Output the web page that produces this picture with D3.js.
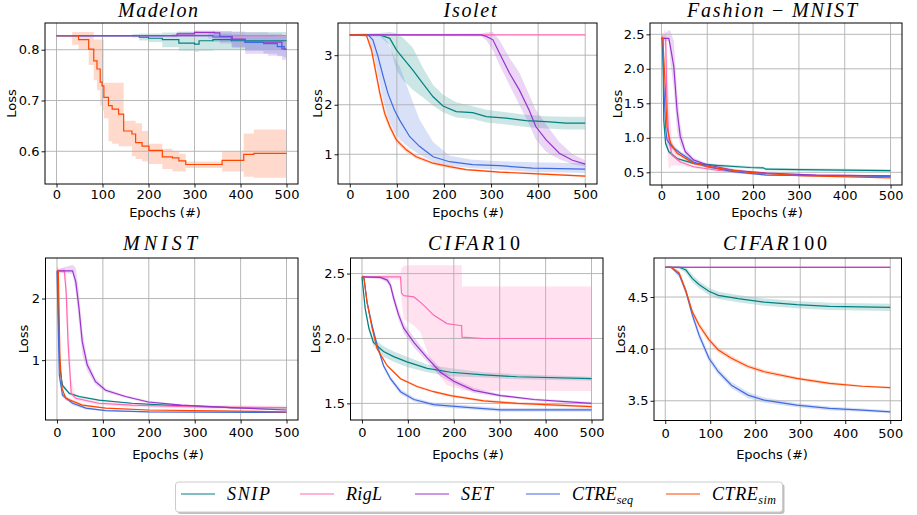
<!DOCTYPE html>
<html>
<head>
<meta charset="utf-8">
<script src="https://cdn.jsdelivr.net/npm/d3@7"></script>
<style>
body { margin: 0; background: #fff; }
svg { display: block; }
</style>
</head>
<body>
<svg id="chart" width="917" height="515"></svg>
<script>
// methods in legend order
var methods = ["SNIP", "RigL", "SET", "CTRE", "CTRE"];
var methodSubs = ["", "", "", "seq", "sim"];
var colors = ["#008080", "#ff69b4", "#9932cc", "#4169e1", "#ff4500"];
var xTicks = [0, 100, 200, 300, 400, 500];

// rows: [epoch, mean, halfBand] or [epoch, mean, lower, upper]
var madelonSnip = [[0,.8276,.001],[165,.8276,.824,.831],[180,.8245,.818,.832],[200,.8226,.815,.832],[230,.8197,.805,.834],[266,.813,.798,.835],[300,.811,.796,.836],[310,.8177,.798,.835],[340,.82,.80,.836],[380,.8177,.800,.835],[500,.8177,.800,.834]];
var madelonRigl = [[0,.8276,.001],[500,.8276,.002]];
var madelonSet = [[0,.8276,.001],[250,.8276,.825,.831],[262,.831,.826,.836],[300,.834,.827,.838],[343,.833,.822,.838],[355,.826,.812,.837],[382,.821,.804,.836],[410,.815,.792,.834],[460,.815,.788,.832],[490,.8014,.78,.828],[500,.8014,.78,.828]];
var madelonSeq = [[0,.8276,.001],[330,.8276,.822,.832],[340,.825,.815,.832],[380,.8197,.806,.83],[410,.8146,.798,.828],[450,.812,.792,.827],[480,.806,.787,.826],[495,.8007,.785,.826],[500,.8007,.785,.826]];
var madelonSim = [[0,.8276,.8276,.8276],[34,.8276,.81,.835],[48,.82,.80,.835],[70,.801,.77,.835],[81,.778,.74,.82],[88,.762,.72,.82],[95,.736,.69,.82],[99,.729,.68,.82],[103,.706,.665,.735],[113,.690,.62,.735],[121,.683,.615,.735],[135,.673,.61,.735],[146,.640,.61,.66],[164,.634,.59,.66],[172,.617,.585,.655],[186,.610,.58,.64],[201,.602,.575,.615],[230,.589,.565,.605],[252,.587,.56,.60],[266,.581,.56,.595],[281,.574,.567,.58],[360,.582,.56,.60],[407,.594,.55,.635],[429,.596,.548,.643],[500,.596,.548,.643]];

var isoletSnip = [[0,3.41,.02],[64,3.41,3.38,3.45],[85,3.34,3.2,3.47],[99,3.107,2.7,3.45],[113,2.94,2.5,3.35],[134,2.70,2.3,3.15],[155,2.43,2.15,2.75],[177,2.16,1.98,2.4],[198,1.975,1.85,2.2],[226,1.86,1.74,2.05],[261,1.84,1.71,1.97],[290,1.76,1.64,1.9],[332,1.73,1.6,1.85],[374,1.68,1.55,1.8],[417,1.66,1.52,1.77],[459,1.63,1.5,1.76],[500,1.63,1.5,1.76]];
var isoletRigl = [[0,3.41,.01],[500,3.41,.01]];
var isoletSet = [[0,3.41,.01],[279,3.41,3.38,3.44],[290,3.38,3.3,3.46],[304,3.31,3.1,3.47],[318,3.04,2.8,3.3],[339,2.64,2.4,2.95],[360,2.30,2.0,2.65],[381,1.89,1.6,2.2],[395,1.56,1.3,1.9],[417,1.29,1.05,1.6],[445,1.02,0.9,1.25],[473,0.88,0.8,1.0],[500,0.80,0.75,0.88]];
var isoletSeq = [[0,3.41,.01],[39,3.41,3.38,3.43],[49,3.31,3.1,3.41],[60,2.97,2.6,3.40],[71,2.57,2.1,3.38],[81,2.23,1.75,3.25],[95,1.89,1.45,2.95],[106,1.69,1.3,2.77],[127,1.36,1.12,2.23],[148,1.16,1.0,1.7],[177,0.95,0.85,1.25],[212,0.85,0.77,0.97],[261,0.79,0.72,0.89],[318,0.77,0.69,0.86],[388,0.72,0.64,0.84],[500,0.70,0.62,0.82]];
var isoletSim = [[0,3.41,.01],[35,3.41,.03],[46,3.11,.1],[53,2.77,.12],[64,2.23,.12],[74,1.83,.1],[85,1.56,.08],[99,1.29,.06],[120,1.09,.05],[141,0.95,.04],[177,0.82,.03],[212,0.75,.03],[247,0.69,.02],[318,0.64,.02],[388,0.61,.02],[500,0.56,.02]];

var fashionSnip = [[0,2.44,.03],[1.5,2.44,.05],[3.6,2.03,.1],[5,1.26,.1],[9,0.92,.05],[16,0.80,.03],[34,0.70,.02],[70,0.63,.02],[121,0.60,.02],[193,0.57,.02],[222,0.565,.02],[228,0.545,.02],[302,0.54,.02],[500,0.525,.02]];
var fashionRigl = [[0,2.44,.02],[9,2.44,2.3,2.58],[12,1.55,0.9,2.4],[16,0.97,0.55,1.6],[23,0.75,0.6,0.95],[41,0.65,0.6,0.7],[70,0.58,.02],[121,0.53,.02],[193,0.49,.02],[302,0.46,.01],[500,0.45,.01]];
var fashionSet = [[0,2.44,.02],[16,2.44,2.4,2.56],[19.5,2.32,2.1,2.55],[27,2.03,1.7,2.4],[34,1.40,1.1,1.7],[41,1.02,0.9,1.2],[52,0.80,.05],[70,0.68,.03],[99,0.61,.02],[157,0.53,.02],[229,0.49,.01],[338,0.46,.01],[500,0.45,.01]];
var fashionSeq = [[0,2.44,.02],[3,2.44,.05],[5,1.79,.1],[9,1.16,.08],[12,0.97,.06],[23,0.87,.04],[41,0.78,.03],[70,0.65,.03],[99,0.58,.02],[157,0.51,.02],[229,0.46,.01],[500,0.44,.01]];
var fashionSim = [[0,2.44,.03],[3,2.44,.1],[9,1.64,.15],[12,1.16,.1],[20,0.92,.05],[34,0.78,.03],[70,0.63,.02],[121,0.56,.02],[193,0.50,.01],[302,0.45,.01],[500,0.42,.01]];

var mnistSnip = [[0,2.45,.08],[1.4,2.45,.05],[3.6,1.57,.1],[6.5,0.86,.08],[12,0.59,.04],[27,0.46,.02],[48,0.41,.02],[91,0.35,.01],[163,0.30,.01],[235,0.27,.01],[379,0.23,.01],[500,0.23,.01]];
var mnistRigl = [[0,2.45,.02],[16,2.45,2.4,2.5],[20,2.1,1.9,2.4],[24,1.30,1.0,1.9],[31,0.46,0.4,0.7],[41,0.38,.03],[91,0.30,.03],[163,0.27,.03],[307,0.24,.03],[500,0.23,.03]];
var mnistSet = [[0,2.45,.02],[34,2.45,2.4,2.55],[41,2.27,2.1,2.5],[48,1.84,1.6,2.1],[55,1.30,1.1,1.5],[66,0.92,0.82,1.02],[84,0.65,.05],[106,0.51,.03],[149,0.41,.02],[199,0.32,.02],[271,0.27,.01],[379,0.23,.01],[500,0.19,.01]];
var mnistSeq = [[0,2.45,.05],[2,1.84,.1],[5,0.76,.08],[12,0.43,.04],[34,0.30,.03],[63,0.22,.02],[106,0.18,.01],[199,0.16,.01],[500,0.15,.01]];
var mnistSim = [[0,2.45,.05],[3,2.45,.05],[6.5,1.03,.1],[11,0.54,.04],[19,0.38,.03],[55,0.27,.02],[106,0.22,.01],[199,0.19,.01],[500,0.16,.01]];

var cifar10Snip = [[0,2.475,.01],[7,2.23,.03],[15,2.08,.03],[25,1.97,.03],[47,1.90,.04],[69,1.86,.04],[98,1.82,.04],[142,1.77,.03],[193,1.74,.03],[265,1.72,.02],[338,1.705,.02],[500,1.69,.015]];
var cifar10Rigl = [[0,2.475,2.47,2.48],[84,2.475,2.45,2.50],[86,2.35,2.3,2.54],[91,2.33,2.15,2.56],[113,2.32,2.1,2.565],[127,2.28,2.05,2.565],[142,2.23,1.9,2.565],[156,2.18,1.77,2.565],[185,2.115,1.64,2.565],[214,2.10,1.61,2.565],[217,2.10,1.60,2.565],[218,2.01,1.60,2.40],[265,2.0,1.598,2.40],[500,2.0,1.595,2.40]];
var cifar10Set = [[0,2.475,.01],[40,2.47,.01],[55,2.45,.02],[62,2.41,.03],[69,2.31,.04],[80,2.18,.04],[91,2.08,.04],[113,1.97,.04],[142,1.85,.03],[171,1.74,.03],[200,1.67,.02],[243,1.60,.02],[302,1.56,.01],[374,1.53,.01],[500,1.50,.01]];
var cifar10Seq = [[0,2.475,.01],[4,2.475,.01],[11,2.28,.02],[22,2.10,.02],[33,1.95,.02],[47,1.79,.02],[62,1.69,.02],[84,1.59,.02],[113,1.53,.015],[156,1.49,.015],[229,1.47,.015],[302,1.45,.015],[500,1.45,.015]];
var cifar10Sim = [[0,2.475,.01],[4,2.475,.01],[11,2.28,.015],[22,2.08,.015],[33,1.92,.015],[55,1.79,.01],[84,1.69,.01],[120,1.63,.01],[156,1.59,.01],[193,1.56,.01],[265,1.52,.01],[338,1.50,.01],[500,1.475,.01]];

var cifar100Snip = [[0,4.787,.005],[31,4.787,.015],[46,4.76,.03],[60,4.68,.035],[75,4.62,.035],[97,4.555,.035],[118,4.516,.035],[162,4.484,.035],[220,4.45,.035],[292,4.426,.035],[365,4.41,.035],[500,4.40,.035]];
var cifar100Rigl = [[0,4.787,.002],[500,4.787,.002]];
var cifar100Set = [[0,4.787,.002],[500,4.787,.002]];
var cifar100Seq = [[0,4.787,.005],[13,4.787,.01],[31,4.716,.03],[46,4.555,.04],[60,4.33,.04],[75,4.135,.04],[97,3.91,.035],[118,3.78,.03],[147,3.65,.03],[184,3.555,.03],[220,3.506,.025],[292,3.458,.02],[365,3.426,.02],[438,3.41,.015],[500,3.394,.015]];
var cifar100Sim = [[0,4.787,.005],[13,4.787,.01],[31,4.73,.025],[46,4.555,.03],[60,4.36,.03],[75,4.23,.03],[97,4.09,.03],[118,3.99,.025],[147,3.91,.025],[184,3.83,.02],[220,3.78,.02],[292,3.716,.015],[365,3.668,.015],[438,3.64,.01],[500,3.626,.01]];

var panels = [
  {title: [["Madelon", true]], titleX: 158, titleLen: 80, series: [madelonSnip, madelonRigl, madelonSet, madelonSeq, madelonSim],
   yDomain: [0.5356, 0.8526], yTicks: [0.6, 0.7, 0.8], fmt: ".1f", box: [45, 23, 298, 184], step: true, labX: 165, loss: 11},
  {title: [["Isolet", true]], titleX: 470, titleLen: 53, series: [isoletSnip, isoletRigl, isoletSet, isoletSeq, isoletSim],
   yDomain: [0.40, 3.65], yTicks: [1, 2, 3], fmt: "d", box: [338, 23, 597, 184], labX: 468, loss: 317},
  {title: [["Fashion", true], [" \u2212 ", false], ["MNIST", true]], titleX: 772, titleLen: 170, series: [fashionSnip, fashionRigl, fashionSet, fashionSeq, fashionSim],
   yDomain: [0.316, 2.664], yTicks: [0.5, 1.0, 1.5, 2.0, 2.5], fmt: ".1f", box: [650, 23, 902, 185], labX: 767, loss: 617},
  {title: [["MNIST", true]], titleX: 160, titleLen: 74, series: [mnistSnip, mnistRigl, mnistSet, mnistSeq, mnistSim],
   yDomain: [0.028, 2.658], yTicks: [1, 2], fmt: "d", box: [45.5, 258, 298, 420], labX: 168, loss: 23.5},
  {title: [["CIFAR", true], ["10", false]], titleX: 474, titleLen: 92, series: [cifar10Snip, cifar10Rigl, cifar10Set, cifar10Seq, cifar10Sim],
   yDomain: [1.372, 2.62], yTicks: [1.5, 2.0, 2.5], fmt: ".1f", box: [350.5, 258, 603, 420], labX: 468, loss: 315},
  {title: [["CIFAR", true], ["100", false]], titleX: 775, titleLen: 104, series: [cifar100Snip, cifar100Rigl, cifar100Set, cifar100Seq, cifar100Sim],
   yDomain: [3.31, 4.876], yTicks: [3.5, 4.0, 4.5], fmt: ".1f", box: [654, 258, 901.5, 420.5], labX: 772, loss: 620}
];

var svg = d3.select("#chart");
var sans = "'DejaVu Sans', sans-serif";
var serif = "'Liberation Serif', 'DejaVu Serif', serif";

function toRows(data) {
  return data.map(function(r) {
    if (r.length == 4) return {e: r[0], m: r[1], lo: r[2], hi: r[3]};
    return {e: r[0], m: r[1], lo: r[1] - r[2], hi: r[1] + r[2]};
  });
}

panels.forEach(function(p, i) {
  var left = p.box[0], top = p.box[1], right = p.box[2], bottom = p.box[3];
  var topRow = i < 3;
  var x = d3.scaleLinear().domain([-25, 525]).range([left, right]);
  var y = d3.scaleLinear().domain(p.yDomain).range([bottom, top]);
  var g = svg.append("g");

  g.append("clipPath").attr("id", "clip" + i).append("rect")
    .attr("x", left).attr("y", top).attr("width", right - left).attr("height", bottom - top);

  var plot = g.append("g").attr("clip-path", `url(#clip${i})`);
  var curve = p.step ? d3.curveStepAfter : d3.curveLinear;
  var data = p.series.map(toRows);

  var area = d3.area().curve(curve).x(d => x(d.e)).y0(d => y(d.lo)).y1(d => y(d.hi));
  var line = d3.line().curve(curve).x(d => x(d.e)).y(d => y(d.m));

  plot.selectAll("path.band").data(data).enter().append("path")
    .attr("class", "band")
    .attr("d", area)
    .attr("fill", (d, j) => colors[j])
    .attr("fill-opacity", 0.2);

  // grid sits above the bands, below the lines
  plot.selectAll("line.gx").data(xTicks).enter().append("line")
    .attr("x1", d => x(d)).attr("x2", d => x(d)).attr("y1", top).attr("y2", bottom)
    .attr("stroke", "#b0b0b0").attr("stroke-width", 0.9);
  plot.selectAll("line.gy").data(p.yTicks).enter().append("line")
    .attr("y1", d => y(d)).attr("y2", d => y(d)).attr("x1", left).attr("x2", right)
    .attr("stroke", "#b0b0b0").attr("stroke-width", 0.9);

  plot.selectAll("path.curve").data(data).enter().append("path")
    .attr("class", "curve")
    .attr("d", line)
    .attr("fill", "none")
    .attr("stroke", (d, j) => colors[j])
    .attr("stroke-width", 1.2);

  var xAxis = g.append("g").attr("transform", `translate(0,${bottom})`)
    .call(d3.axisBottom(x).tickValues(xTicks).tickSize(3.5).tickPadding(topRow ? 2.3 : 4.3).tickFormat(d3.format("d")));
  var yAxis = g.append("g").attr("transform", `translate(${left},0)`)
    .call(d3.axisLeft(y).tickValues(p.yTicks).tickSize(3.5).tickPadding(2).tickFormat(d3.format(p.fmt)));
  [xAxis, yAxis].forEach(function(a) {
    a.select(".domain").remove();
    a.selectAll("text").attr("font-family", sans).attr("font-size", 13).attr("fill", "#000");
    a.selectAll("line").attr("stroke", "#000").attr("stroke-width", 0.9);
  });

  g.append("rect")
    .attr("x", left).attr("y", top).attr("width", right - left).attr("height", bottom - top)
    .attr("fill", "none").attr("stroke", "#000").attr("stroke-width", 1);

  g.append("text")
    .attr("x", p.labX).attr("y", topRow ? 217 : 458.5)
    .attr("text-anchor", "middle")
    .attr("font-family", sans).attr("font-size", 13)
    .text("Epochs (#)");

  g.append("text")
    .attr("transform", `translate(${p.loss + 4.5},${(top + bottom) / 2}) rotate(-90)`)
    .attr("text-anchor", "middle")
    .attr("font-family", sans).attr("font-size", 13)
    .text("Loss");

  var title = g.append("text")
    .attr("x", p.titleX).attr("y", topRow ? 17 : 250)
    .attr("text-anchor", "middle")
    .attr("font-family", serif).attr("font-size", 20)
    .attr("textLength", p.titleLen).attr("lengthAdjust", "spacing");
  p.title.forEach(function(part) {
    title.append("tspan")
      .attr("font-style", part[1] ? "italic" : "normal")
      .text(part[0]);
  });
});

// legend
var legendLineX = [181, 300, 415, 526, 666];
var legendTextLen = [43, 36, 32, 61, 64];
var legend = svg.append("g");
legend.append("rect")
  .attr("x", 177.5).attr("y", 484).attr("width", 607).attr("height", 30).attr("rx", 3)
  .attr("fill", "#000").attr("fill-opacity", 0.25);
legend.append("rect")
  .attr("x", 175.5).attr("y", 482).attr("width", 607).attr("height", 30).attr("rx", 3)
  .attr("fill", "#fff").attr("stroke", "#cccccc").attr("stroke-width", 1);

methods.forEach(function(m, j) {
  var lx = legendLineX[j];
  legend.append("line")
    .attr("x1", lx).attr("x2", lx + 34).attr("y1", 494).attr("y2", 494)
    .attr("stroke", colors[j]).attr("stroke-width", 1.2);
  var t = legend.append("text")
    .attr("x", lx + 46).attr("y", 500)
    .attr("font-family", serif).attr("font-size", 18).attr("font-style", "italic")
    .attr("textLength", legendTextLen[j]).attr("lengthAdjust", "spacing");
  t.append("tspan").text(m);
  if (methodSubs[j]) {
    t.append("tspan").attr("font-size", 12).attr("dy", 4).text(methodSubs[j]);
  }
});
</script>
</body>
</html>
